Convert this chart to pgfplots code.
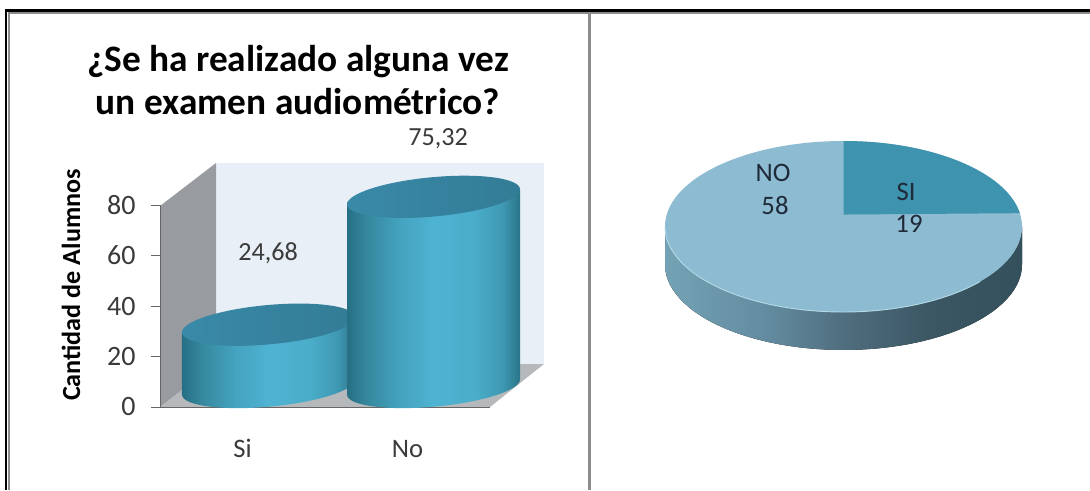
\documentclass[border=0pt]{standalone}
\usepackage{fontspec}
\setmainfont{Carlito}
\usepackage{pgfplots}
\usepackage{pgfplotstable}
\pgfplotsset{compat=1.18}

\definecolor{framegrey}{HTML}{8C8C8C}
\definecolor{backwall}{HTML}{E8EFF7}
\definecolor{sidewall}{HTML}{989CA0}
\definecolor{floorgrey}{HTML}{B5B9BB}
\definecolor{axisgrey}{HTML}{666666}
\definecolor{textdark}{HTML}{3A3A3A}
\definecolor{pielabel}{HTML}{1E2A38}
\definecolor{piesi}{HTML}{3E93AF}
\definecolor{pieno}{HTML}{8DBBD2}
\definecolor{pierim}{HTML}{B4D9E6}

\definecolor{cylA}{HTML}{276F85}
\definecolor{cylB}{HTML}{36899F}
\definecolor{cylC}{HTML}{44A2BE}
\definecolor{cylD}{HTML}{4EB3D2}
\definecolor{cylE}{HTML}{4AADC9}
\definecolor{cylF}{HTML}{3F98B3}
\definecolor{cylG}{HTML}{2A7488}
\definecolor{capA}{HTML}{398AA8}
\definecolor{capB}{HTML}{36829E}
\definecolor{capC}{HTML}{337C96}
\definecolor{sideA}{HTML}{74A2B5}
\definecolor{sideB}{HTML}{628A9E}
\definecolor{sideC}{HTML}{4F6E7E}
\definecolor{sideD}{HTML}{3C5764}
\definecolor{sideE}{HTML}{34505C}

% Round body of the cylinders, shaded from edge to edge
\pgfdeclarehorizontalshading{cylbody}{100bp}{
  color(0bp)=(cylA);
  color(25bp)=(cylA);
  color(31bp)=(cylB);
  color(40bp)=(cylC);
  color(50bp)=(cylD);
  color(62bp)=(cylE);
  color(70bp)=(cylF);
  color(75bp)=(cylG);
  color(100bp)=(cylG)}
\pgfdeclarehorizontalshading{cylcap}{100bp}{
  color(0bp)=(capA);
  color(25bp)=(capA);
  color(50bp)=(capB);
  color(75bp)=(capC);
  color(100bp)=(capC)}
\pgfdeclarehorizontalshading{pieside}{100bp}{
  color(0bp)=(sideA);
  color(25bp)=(sideA);
  color(40bp)=(sideB);
  color(50bp)=(sideC);
  color(62bp)=(sideD);
  color(75bp)=(sideE);
  color(100bp)=(sideE)}

% Ellipses closing the cylinders at base and top
\pgfdeclareplotmark{cylbase}{%
  \pgfpathellipse{\pgfpointorigin}{\pgfqpoint{64.875pt}{0pt}}{\pgfqpoint{0pt}{14.8pt}}%
  \pgfshadepath{cylbody}{0}\pgfusepath{discard}}
\pgfdeclareplotmark{cyltop}{%
  \pgfpathellipse{\pgfpointorigin}{\pgfqpoint{64.875pt}{0pt}}{\pgfqpoint{0pt}{14.8pt}}%
  \pgfshadepath{cylcap}{0}\pgfusepath{discard}}

\pgfplotstableread{
label value
SI    19
NO    58
}\pietable
\pgfplotstablegetelem{0}{value}\of\pietable
\let\pieSi\pgfplotsretval
\pgfplotstablegetelem{1}{value}\of\pietable
\let\pieNo\pgfplotsretval

\newcommand{\cylinder}[3]{%
  % #1 centre in pixels, #2 category, #3 value
  \begin{scope}[shift={(#1,387)},yslant=0.087,shift={(-#1,-387)}]
    \begin{axis}[
      at={(139.5pt,-290.25pt)},anchor=south west,
      scale only axis,width=247.5pt,height=151.5pt,
      xmin=-0.5,xmax=1.5,ymin=0,ymax=80,
      hide axis,clip=false]
      \addplot[only marks,mark=cylbase] coordinates {(#2,0)};
      \addplot[ybar,bar width=129.75pt,draw=none,shading=cylbody] coordinates {(#2,#3)};
      \addplot[only marks,mark=cyltop] coordinates {(#2,#3)};
    \end{axis}
  \end{scope}}

\begin{document}
\begin{tikzpicture}[x=0.75pt,y=-0.75pt]
\path[use as bounding box] (0,0) rectangle (1090,490);

% Walls and floor of the column chart
\fill[backwall] (216,163) rectangle (544,364);
\fill[sidewall] (160,206) -- (216,163) -- (216,364) -- (160,407) -- cycle;
\fill[floorgrey] (160,407) -- (216,364) -- (544,364) -- (490,407) -- cycle;

\begin{axis}[
  at={(120pt,-305.25pt)},anchor=south west,
  scale only axis,width=247.5pt,height=151.5pt,
  xmin=-0.5,xmax=1.5,ymin=0,ymax=80,
  axis x line*=bottom,axis y line*=left,
  axis line style={axisgrey,-},
  xtick={0,1},xticklabels={Si,No},
  ytick={0,20,40,60,80},
  xtick style={draw=none},
  ytick style={axisgrey},
  major tick length=6.75pt,
  tick align=outside,
  /pgf/number format/assume math mode=true,
  xticklabel style={font=\fontsize{20}{23}\selectfont,text=textdark,anchor=center,yshift=-24.5pt},
  yticklabel style={font=\fontsize{21}{24}\selectfont,text=textdark,xshift=-8pt},
  clip=false]
\end{axis}

\cylinder{268.5}{0}{24.68}
\cylinder{433.5}{1}{75.32}

% Titles and value captions
\node[anchor=base,font=\bfseries\fontsize{28}{32}\selectfont,text=black] at (298,71) {¿Se ha realizado alguna vez};
\node[anchor=base,font=\bfseries\fontsize{28}{32}\selectfont,text=black] at (298,114) {un examen audiométrico?};
\node[font=\bfseries\fontsize{19.6}{22}\selectfont,rotate=90,text=black] at (71,285) {Cantidad de Alumnos};
\node[anchor=base,font=\fontsize{19.6}{22}\selectfont,text=textdark] at (268,260) {24,68};
\node[anchor=base,font=\fontsize{19.6}{22}\selectfont,text=textdark] at (438,145) {75,32};

% Pie with its rim; the SI wedge opens from the top of the disc
\begin{axis}[
  at={(498.75pt,-234pt)},anchor=south west,
  scale only axis,width=267.75pt,height=128.25pt,
  xmin=-1,xmax=1,ymin=-1,ymax=1,
  hide axis,clip=false]
  \fill[shading=pieside] (axis cs:-1,0) -- (axis cs:-1,-0.444)
     arc[start angle=180,end angle=360,x radius=133.875pt,y radius=64.125pt]
     -- (axis cs:1,0) arc[start angle=0,end angle=-180,x radius=133.875pt,y radius=64.125pt] -- cycle;
  \fill[pieno] (axis cs:0,0) ellipse[x radius=133.875pt,y radius=64.125pt];
  \draw[pierim,line width=0.7pt] (axis cs:-1,0)
     arc[start angle=180,end angle=320,x radius=133.875pt,y radius=64.125pt];
  % the viewing tilt moves the wedge's outer edge 7.8 degrees along the rim
  \pgfmathsetmacro{\wedgeend}{90-360*\pieSi/(\pieSi+\pieNo)+7.8}
  \fill[piesi] (axis cs:0,0.14) -- (axis cs:0,1)
     arc[start angle=90,end angle=\wedgeend,x radius=133.875pt,y radius=64.125pt] -- cycle;
\end{axis}

\node[font=\fontsize{20}{24}\selectfont,text=pielabel] at (773,173) {NO};
\node[font=\fontsize{20}{24}\selectfont,text=pielabel] at (775,205) {\pieNo};
\node[font=\fontsize{20}{24}\selectfont,text=pielabel] at (906,192) {SI};
\node[font=\fontsize{20}{24}\selectfont,text=pielabel] at (909,224) {\pieSi};

% Table frame around the two panels
\draw[framegrey,line width=1.5pt] (9,490) -- (9,13) -- (1090,13);
\draw[black,line width=2.2pt] (6,490) -- (6,10.5) -- (1090,10.5);
\draw[framegrey,line width=2.2pt] (589.5,13) -- (589.5,490);
\end{tikzpicture}
\end{document}
